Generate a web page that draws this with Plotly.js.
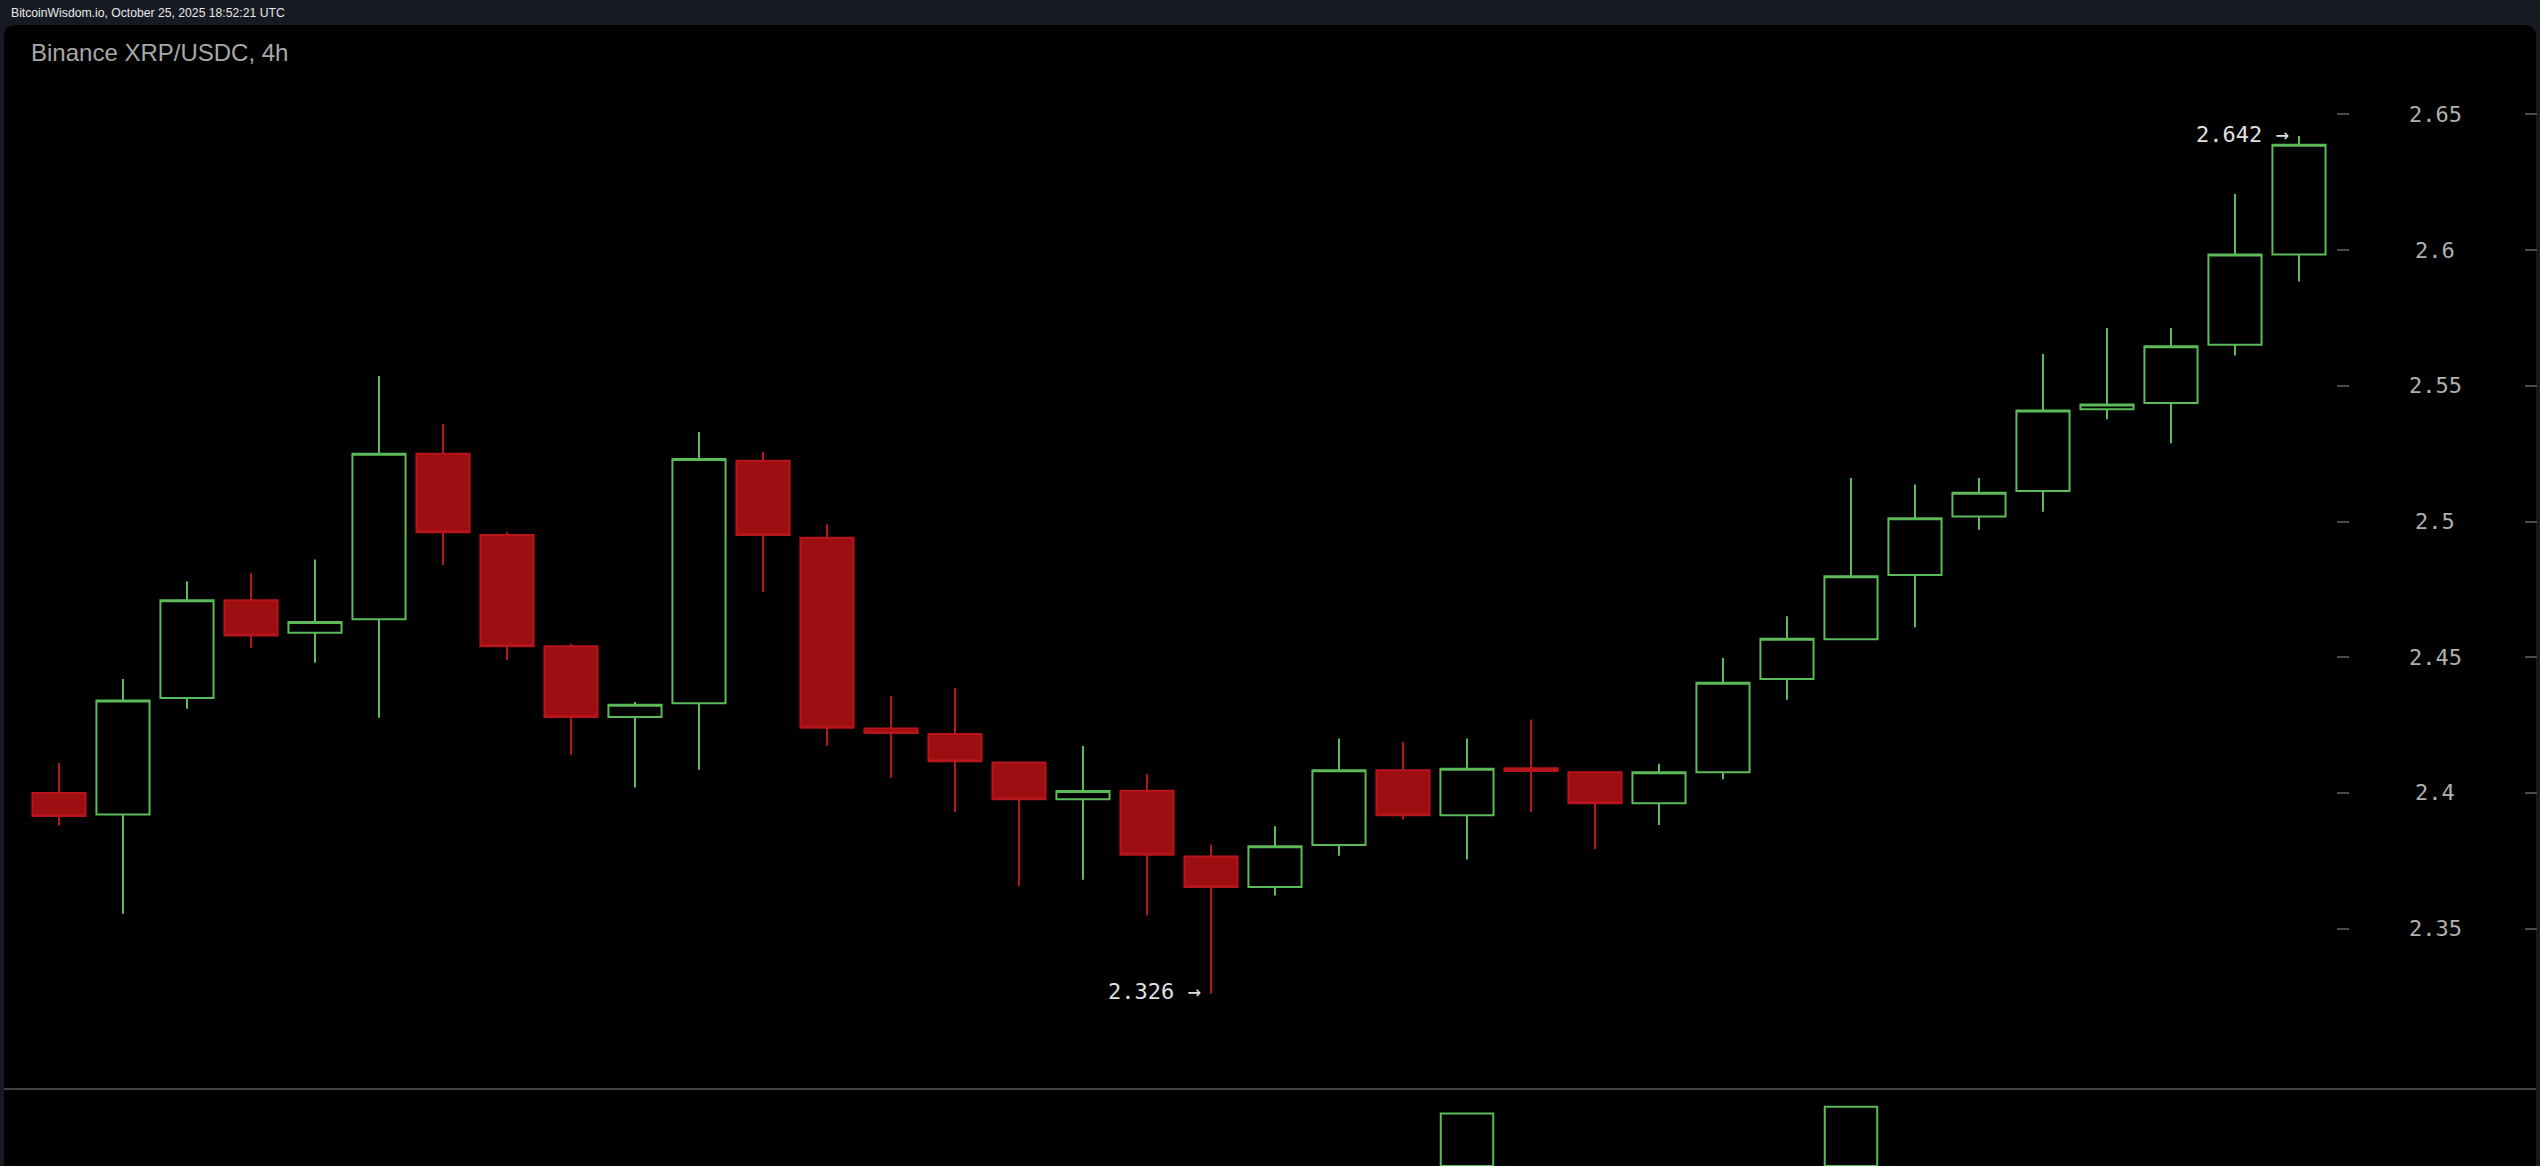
<!DOCTYPE html>
<html>
<head>
<meta charset="utf-8">
<script src="https://cdn.plot.ly/plotly-3.0.1.min.js"></script>
<style>
  html, body { margin: 0; padding: 0; background: #171a22; overflow: hidden; }
  #chart { width: 2540px; height: 1166px; }
</style>
</head>
<body>
<div id="chart"></div>
<script>
// ---- data ----
const headerText = "BitcoinWisdom.io, October 25, 2025 18:52:21 UTC";
const chartTitle = "Binance XRP/USDC, 4h";

// 4h candles, UTC start times
const times = [
  "2025-10-19 20:00","2025-10-20 00:00","2025-10-20 04:00","2025-10-20 08:00","2025-10-20 12:00","2025-10-20 16:00",
  "2025-10-20 20:00","2025-10-21 00:00","2025-10-21 04:00","2025-10-21 08:00","2025-10-21 12:00","2025-10-21 16:00",
  "2025-10-21 20:00","2025-10-22 00:00","2025-10-22 04:00","2025-10-22 08:00","2025-10-22 12:00","2025-10-22 16:00",
  "2025-10-22 20:00","2025-10-23 00:00","2025-10-23 04:00","2025-10-23 08:00","2025-10-23 12:00","2025-10-23 16:00",
  "2025-10-23 20:00","2025-10-24 00:00","2025-10-24 04:00","2025-10-24 08:00","2025-10-24 12:00","2025-10-24 16:00",
  "2025-10-24 20:00","2025-10-25 00:00","2025-10-25 04:00","2025-10-25 08:00","2025-10-25 12:00","2025-10-25 16:00"
];
const open = [
  2.400, 2.392, 2.435, 2.471, 2.459, 2.464,
  2.525, 2.495, 2.454, 2.428, 2.433, 2.5224,
  2.494, 2.4237, 2.4217, 2.4112, 2.3977, 2.4008,
  2.3766, 2.3653, 2.3808, 2.4083, 2.3918, 2.4091,
  2.4076, 2.3962, 2.4076, 2.442, 2.4566, 2.4803,
  2.5018, 2.5112, 2.5414, 2.5437, 2.5651, 2.5984
];
const high = [
  2.411, 2.442, 2.478, 2.481, 2.486, 2.5536,
  2.536, 2.496, 2.455, 2.4335, 2.533, 2.5257,
  2.499, 2.4357, 2.4387, 2.4115, 2.4173, 2.407,
  2.381, 2.3877, 2.420, 2.4188, 2.420, 2.427,
  2.408, 2.4107, 2.4497, 2.4651, 2.516, 2.5136,
  2.516, 2.5617, 2.5713, 2.5713, 2.6207, 2.642
];
const low = [
  2.388, 2.3555, 2.431, 2.4535, 2.448, 2.4277,
  2.484, 2.449, 2.414, 2.402, 2.4085, 2.474,
  2.4174, 2.4056, 2.393, 2.3658, 2.368, 2.3548,
  2.326, 2.3622, 2.3768, 2.3902, 2.3755, 2.393,
  2.3793, 2.3882, 2.405, 2.4343, 2.4566, 2.461,
  2.497, 2.5036, 2.5377, 2.5288, 2.5612, 2.5884
];
const close = [
  2.3915, 2.434, 2.471, 2.458, 2.463, 2.525,
  2.496, 2.454, 2.428, 2.4325, 2.523, 2.495,
  2.424, 2.4221, 2.4117, 2.3977, 2.4007, 2.3772,
  2.3653, 2.3803, 2.4083, 2.3918, 2.4089, 2.4081,
  2.3962, 2.4076, 2.4406, 2.4568, 2.4798, 2.5012,
  2.5106, 2.5409, 2.5431, 2.5646, 2.5984, 2.6388
];
// volume (only the two bars that reach into the visible strip can be read; others are below the crop)
const volume = [
  null, null, null, null, null, null,
  null, null, null, null, null, null,
  null, null, null, null, null, null,
  null, null, null, null, 69, null,
  null, null, null, null, 78, null,
  null, null, null, null, null, null
];
const priceTicks = [2.35, 2.4, 2.45, 2.5, 2.55, 2.6, 2.65];
const priceTickText = ["2.35", "2.4", "2.45", "2.5", "2.55", "2.6", "2.65"];

// ---- layout geometry (pixels of the 2540x1166 page) ----
const W = 2540, H = 1166;
const px = v => v / W;
const py = v => 1 - v / H;

const GREEN = "#5dba5a";
const RED_LINE = "#b8141b";
const RED_FILL = "#9c0e11";

const panel = { x0: 4, x1: 2536, y0: 25, y1: 1166, r: 12 };
const sepY = 1090;
const candle0Px = 59, candleStepPx = 64;
const priceTopPx = 25, priceBotPx = sepY;
const pricePxPerUnit = 2714, priceRefPx = 114.4, priceRef = 2.65;

// price axis range from pixel geometry
const priceTop = priceRef + (priceRefPx - priceTopPx) / pricePxPerUnit;
const priceBot = priceRef - (priceBotPx - priceRefPx) / pricePxPerUnit;

// x axis range (date) from pixel geometry
const H4 = 4 * 3600 * 1000;
function toMs(s) { const [d, t] = s.split(" "); const [Y, M, D] = d.split("-").map(Number); const [h, m] = t.split(":").map(Number); return Date.UTC(Y, M - 1, D, h, m); }
const t0 = toMs(times[0]);
const xr0 = t0 + (panel.x0 - candle0Px) / candleStepPx * H4;
const xr1 = t0 + (panel.x1 - candle0Px) / candleStepPx * H4;
function msToStr(ms) { const d = new Date(ms); const p = n => String(n).padStart(2, "0");
  return d.getUTCFullYear() + "-" + p(d.getUTCMonth() + 1) + "-" + p(d.getUTCDate()) + " " + p(d.getUTCHours()) + ":" + p(d.getUTCMinutes()) + ":" + p(d.getUTCSeconds()); }

// rounded panel path (top corners rounded)
const rx = panel.r / W, ry = panel.r / H;
const X0 = px(panel.x0), X1 = px(panel.x1), Y0 = py(panel.y0), Y1 = py(panel.y1);
const panelPath = `M ${X0},${Y1} L ${X0},${Y0 - ry} Q ${X0},${Y0} ${X0 + rx},${Y0} L ${X1 - rx},${Y0} Q ${X1},${Y0} ${X1},${Y0 - ry} L ${X1},${Y1} Z`;

const traces = [
  {
    type: "candlestick",
    x: times, open: open, high: high, low: low, close: close,
    xaxis: "x", yaxis: "y",
    increasing: { line: { color: GREEN, width: 2 }, fillcolor: "#000000" },
    decreasing: { line: { color: RED_LINE, width: 2 }, fillcolor: RED_FILL },
    whiskerwidth: 0,
    hoverinfo: "skip",
    showlegend: false
  },
  {
    type: "bar",
    x: times, y: volume,
    xaxis: "x", yaxis: "y2",
    marker: { color: "#000000", line: { color: GREEN, width: 2 } },
    hoverinfo: "skip",
    showlegend: false
  }
];

// extremes annotations
const minLow = Math.min(...low), maxHigh = Math.max(...high);
const iMin = low.indexOf(minLow), iMax = high.indexOf(maxHigh);

const monoFont = "DejaVu Sans Mono, Liberation Mono, monospace";
const annotations = [
  { xref: "paper", yref: "paper", x: px(9), y: py(13.5), xanchor: "left", yanchor: "middle",
    text: headerText, showarrow: false, font: { family: "Liberation Sans, Arial, sans-serif", size: 12.2, color: "#e8e8e8" } },
  { xref: "paper", yref: "paper", x: px(29), y: py(52), xanchor: "left", yanchor: "middle",
    text: chartTitle, showarrow: false, font: { family: "Liberation Sans, Arial, sans-serif", size: 24, color: "#a8a8a8" } },
  { xref: "x", yref: "y", x: times[iMin], y: minLow, xanchor: "right", yanchor: "middle", xshift: -8, yshift: 2,
    text: minLow.toFixed(3) + " \u2192", showarrow: false, font: { family: monoFont, size: 22, color: "#e0e0e0" } },
  { xref: "x", yref: "y", x: times[iMax], y: maxHigh, xanchor: "right", yanchor: "middle", xshift: -8, yshift: 2,
    text: maxHigh.toFixed(3) + " \u2192", showarrow: false, font: { family: monoFont, size: 22, color: "#e0e0e0" } }
];
priceTicks.forEach((v, k) => {
  annotations.push({ xref: "paper", yref: "y", x: px(2435), y: v, xanchor: "center", yanchor: "middle",
    text: priceTickText[k], showarrow: false, font: { family: monoFont, size: 22, color: "#b0b0b0" } });
});

const layout = {
  width: W, height: H,
  margin: { l: 0, r: 0, t: 0, b: 0, pad: 0 },
  paper_bgcolor: "#171a22",
  plot_bgcolor: "rgba(0,0,0,0)",
  showlegend: false,
  boxmode: "overlay", boxgap: 0.17, boxgroupgap: 0,
  bargap: 0.18,
  xaxis: {
    type: "date", domain: [px(panel.x0), px(panel.x1)],
    range: [msToStr(xr0), msToStr(xr1)],
    anchor: "y2", side: "top",
    showline: true, linecolor: "#444444", linewidth: 2,
    showgrid: false, zeroline: false, showticklabels: false, ticks: "",
    rangeslider: { visible: false }, fixedrange: true
  },
  yaxis: {
    domain: [py(priceBotPx), py(priceTopPx)],
    range: [priceBot, priceTop],
    anchor: "free", side: "right", position: px(2336),
    tickvals: priceTicks, ticks: "outside", ticklen: 12, tickwidth: 2, tickcolor: "#4a4a4a",
    showticklabels: false, showgrid: false, zeroline: false, showline: false, fixedrange: true
  },
  yaxis3: {
    overlaying: "y", range: [priceBot, priceTop],
    anchor: "free", side: "right", position: px(2524),
    tickvals: priceTicks, ticks: "outside", ticklen: 12, tickwidth: 2, tickcolor: "#4a4a4a",
    showticklabels: false, showgrid: false, zeroline: false, showline: false, fixedrange: true
  },
  yaxis2: {
    domain: [0, py(sepY)],
    range: [0, 100],
    anchor: "x", showticklabels: false, showgrid: false, zeroline: false, showline: false, ticks: "", fixedrange: true
  },
  shapes: [
    { type: "path", xref: "paper", yref: "paper", path: panelPath, fillcolor: "#000000", line: { width: 0 }, layer: "below" }
  ],
  annotations: annotations
};

// dummy trace so yaxis3 is drawn
traces.push({ type: "scatter", x: [times[0]], y: [null], xaxis: "x", yaxis: "y3", mode: "markers", hoverinfo: "skip", showlegend: false });

Plotly.newPlot("chart", traces, layout, { staticPlot: true, displayModeBar: false });
</script>
</body>
</html>
